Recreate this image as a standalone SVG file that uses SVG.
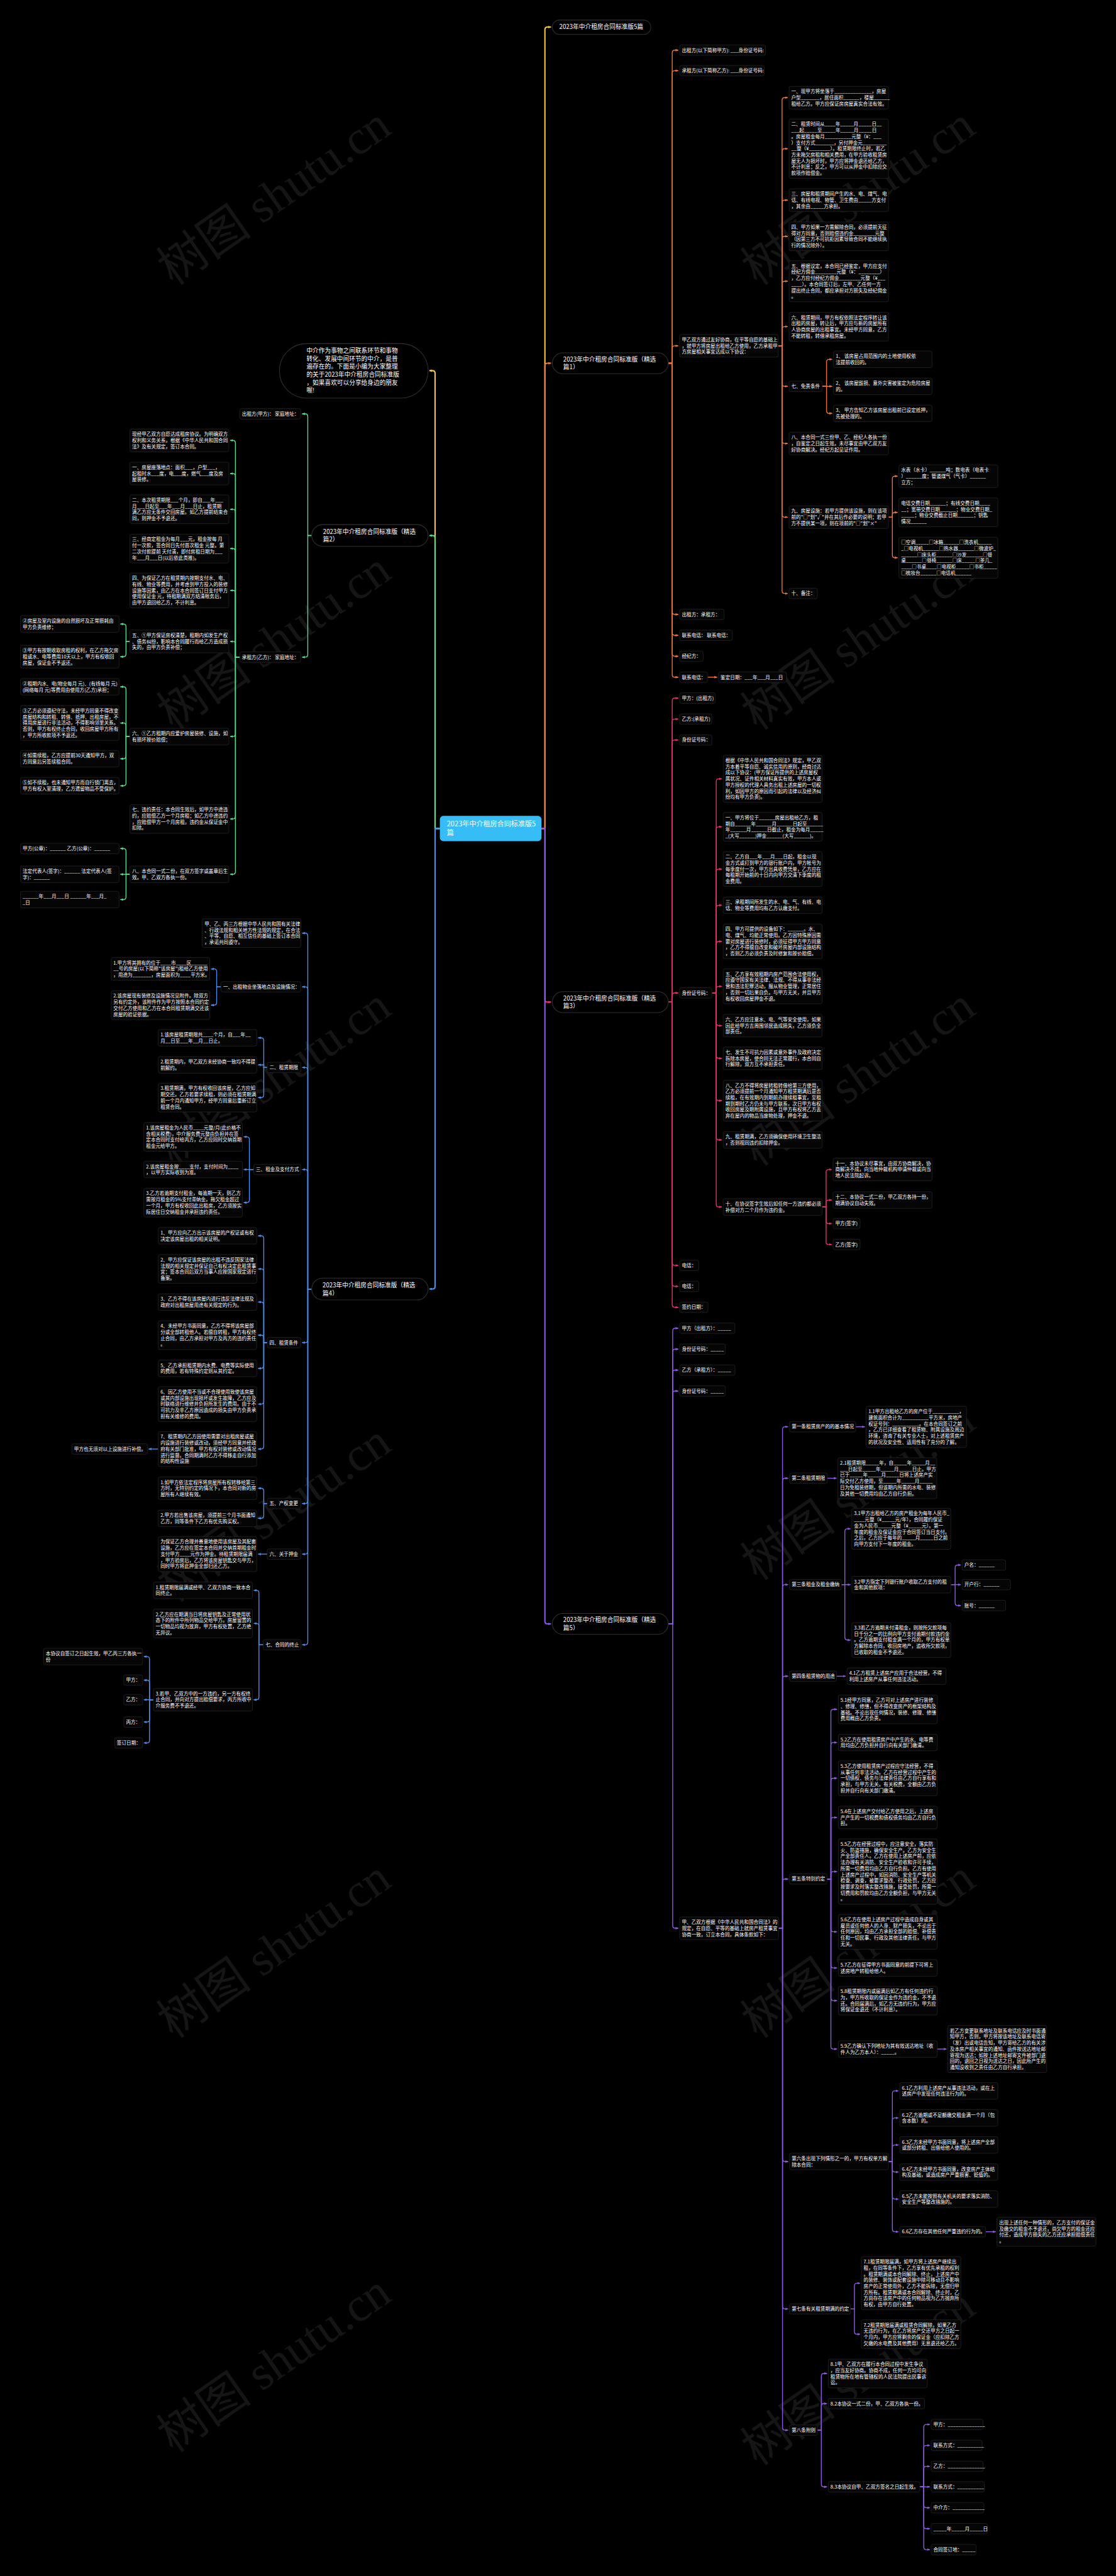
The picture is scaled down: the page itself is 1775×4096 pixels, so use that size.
<svg xmlns="http://www.w3.org/2000/svg" width="1775" height="4096" viewBox="0 0 1775 4096">
<defs>
<style>
.lf{fill:#050505;stroke:#2a2a2a;stroke-width:1}
.pl{fill:#000;stroke:#303030;stroke-width:1.5}
.t{font-family:"Noto Sans CJK SC","Noto Sans",sans-serif;font-size:11px;fill:#fff}
.tb{font-family:"Noto Sans CJK SC","Noto Sans",sans-serif;font-size:14px;fill:#fff}
.wm{font-family:"Liberation Serif","Noto Sans CJK SC",serif;font-size:110px;fill:#151515}
.cn path{fill:none;stroke-width:2}
.mn path{stroke-width:3}
.cy path{stroke:#f5c542}
.co path{stroke:#f0743a}
.cp path{stroke:#e9306b}
.cu path{stroke:#8e5ae8}
.cg path{stroke:#52e08f}
.cb path{stroke:#4a8ff0}
</style>
<marker id="my" viewBox="0 0 10 10" refX="9" refY="5" markerWidth="7" markerHeight="7" markerUnits="userSpaceOnUse" orient="auto"><path d="M0,1L10,5L0,9z" fill="#f5c542"/></marker>
<marker id="mo" viewBox="0 0 10 10" refX="9" refY="5" markerWidth="7" markerHeight="7" markerUnits="userSpaceOnUse" orient="auto"><path d="M0,1L10,5L0,9z" fill="#f0743a"/></marker>
<marker id="mp" viewBox="0 0 10 10" refX="9" refY="5" markerWidth="7" markerHeight="7" markerUnits="userSpaceOnUse" orient="auto"><path d="M0,1L10,5L0,9z" fill="#e9306b"/></marker>
<marker id="mu" viewBox="0 0 10 10" refX="9" refY="5" markerWidth="7" markerHeight="7" markerUnits="userSpaceOnUse" orient="auto"><path d="M0,1L10,5L0,9z" fill="#8e5ae8"/></marker>
<marker id="mg" viewBox="0 0 10 10" refX="9" refY="5" markerWidth="7" markerHeight="7" markerUnits="userSpaceOnUse" orient="auto"><path d="M0,1L10,5L0,9z" fill="#52e08f"/></marker>
<marker id="mb" viewBox="0 0 10 10" refX="9" refY="5" markerWidth="7" markerHeight="7" markerUnits="userSpaceOnUse" orient="auto"><path d="M0,1L10,5L0,9z" fill="#4a8ff0"/></marker>
</defs>
<rect width="1775" height="4096" fill="#000"/>
<g transform="scale(0.693359)">
<g id="watermark">
<text class="wm" text-anchor="middle" transform="translate(650,480) rotate(-35)">树图 shutu.cn</text>
<text class="wm" text-anchor="middle" transform="translate(650,1500) rotate(-35)">树图 shutu.cn</text>
<text class="wm" text-anchor="middle" transform="translate(650,2500) rotate(-35)">树图 shutu.cn</text>
<text class="wm" text-anchor="middle" transform="translate(650,3500) rotate(-35)">树图 shutu.cn</text>
<text class="wm" text-anchor="middle" transform="translate(650,4500) rotate(-35)">树图 shutu.cn</text>
<text class="wm" text-anchor="middle" transform="translate(650,5450) rotate(-35)">树图 shutu.cn</text>
<text class="wm" text-anchor="middle" transform="translate(1990,480) rotate(-35)">树图 shutu.cn</text>
<text class="wm" text-anchor="middle" transform="translate(1990,1500) rotate(-35)">树图 shutu.cn</text>
<text class="wm" text-anchor="middle" transform="translate(1990,2500) rotate(-35)">树图 shutu.cn</text>
<text class="wm" text-anchor="middle" transform="translate(1990,3450) rotate(-35)">树图 shutu.cn</text>
<text class="wm" text-anchor="middle" transform="translate(1990,4500) rotate(-35)">树图 shutu.cn</text>
<text class="wm" text-anchor="middle" transform="translate(1990,5480) rotate(-35)">树图 shutu.cn</text>
</g>

<g id="connectors" class="cn">
<g class="mn cy"><path marker-end="url(#my)" d="M1242,1900H1250V68Q1250,62 1256,62H1264"/><path marker-end="url(#my)" d="M1009,1900H998V856Q998,850 992,850H985"/></g>
<g class="mn co"><path marker-end="url(#mo)" d="M1242,1900H1250V839Q1250,833 1256,833H1264"/></g>
<g class="mn cp"><path marker-end="url(#mp)" d="M1242,1900H1250V2292Q1250,2298 1256,2298H1264"/></g>
<g class="mn cu"><path marker-end="url(#mu)" d="M1242,1900H1250V3718Q1250,3724 1256,3724H1264"/></g>
<g class="mn cg"><path marker-end="url(#mg)" d="M1009,1900H998V1234Q998,1228 992,1228H985"/></g>
<g class="mn cb"><path marker-end="url(#mb)" d="M1009,1900H998V2950Q998,2956 992,2956H985"/></g>

<g class="co">
<path marker-end="url(#mo)" d="M1533,833H1542V121Q1542,115 1548,115H1556"/>
<path marker-end="url(#mo)" d="M1533,833H1542V168Q1542,162 1548,162H1556"/>
<path marker-end="url(#mo)" d="M1533,833H1542V799Q1542,793 1548,793H1556"/>
<path marker-end="url(#mo)" d="M1533,833H1542V1403Q1542,1409 1548,1409H1556"/>
<path marker-end="url(#mo)" d="M1533,833H1542V1451Q1542,1457 1548,1457H1556"/>
<path marker-end="url(#mo)" d="M1533,833H1542V1499Q1542,1505 1548,1505H1556"/>
<path marker-end="url(#mo)" d="M1533,833H1542V1547Q1542,1553 1548,1553H1556"/>
<path marker-end="url(#mo)" d="M1623,1553H1645"/>
<path marker-end="url(#mo)" d="M1785,793H1794V230Q1794,224 1800,224H1807"/>
<path marker-end="url(#mo)" d="M1785,793H1794V347Q1794,341 1800,341H1807"/>
<path marker-end="url(#mo)" d="M1785,793H1794V465Q1794,459 1800,459H1807"/>
<path marker-end="url(#mo)" d="M1785,793H1794V548Q1794,542 1800,542H1807"/>
<path marker-end="url(#mo)" d="M1785,793H1794V651Q1794,645 1800,645H1807"/>
<path marker-end="url(#mo)" d="M1785,793H1794V755Q1794,749 1800,749H1807"/>
<path marker-end="url(#mo)" d="M1785,793H1794V880Q1794,886 1800,886H1807"/>
<path marker-end="url(#mo)" d="M1785,793H1794V1011Q1794,1017 1800,1017H1807"/>
<path marker-end="url(#mo)" d="M1785,793H1794V1180Q1794,1186 1800,1186H1807"/>
<path marker-end="url(#mo)" d="M1785,793H1794V1355Q1794,1361 1800,1361H1807"/>
<path marker-end="url(#mo)" d="M1886,886H1896V830Q1896,824 1902,824H1909"/>
<path marker-end="url(#mo)" d="M1886,886H1909"/>
<path marker-end="url(#mo)" d="M1886,886H1896V942Q1896,948 1902,948H1909"/>
<path marker-end="url(#mo)" d="M2038,1186H2047V1098Q2047,1092 2053,1092H2059"/>
<path marker-end="url(#mo)" d="M2038,1186H2047V1181Q2047,1175 2053,1175H2059"/>
<path marker-end="url(#mo)" d="M2038,1186H2047V1273Q2047,1279 2053,1279H2059"/>
</g>

<g class="cp">
<path marker-end="url(#mp)" d="M1533,2298H1542V1607Q1542,1601 1548,1601H1556"/>
<path marker-end="url(#mp)" d="M1533,2298H1542V1655Q1542,1649 1548,1649H1556"/>
<path marker-end="url(#mp)" d="M1533,2298H1542V1703Q1542,1697 1548,1697H1556"/>
<path marker-end="url(#mp)" d="M1533,2298H1542V2283Q1542,2277 1548,2277H1556"/>
<path marker-end="url(#mp)" d="M1533,2298H1542V2896Q1542,2902 1548,2902H1556"/>
<path marker-end="url(#mp)" d="M1533,2298H1542V2944Q1542,2950 1548,2950H1556"/>
<path marker-end="url(#mp)" d="M1533,2298H1542V2992Q1542,2998 1548,2998H1556"/>
<path marker-end="url(#mp)" d="M1633,2277H1643V1792Q1643,1786 1649,1786H1656"/>
<path marker-end="url(#mp)" d="M1633,2277H1643V1902Q1643,1896 1649,1896H1656"/>
<path marker-end="url(#mp)" d="M1633,2277H1643V1999Q1643,1993 1649,1993H1656"/>
<path marker-end="url(#mp)" d="M1633,2277H1643V2082Q1643,2076 1649,2076H1656"/>
<path marker-end="url(#mp)" d="M1633,2277H1643V2165Q1643,2159 1649,2159H1656"/>
<path marker-end="url(#mp)" d="M1633,2277H1643V2268Q1643,2262 1649,2262H1656"/>
<path marker-end="url(#mp)" d="M1633,2277H1643V2346Q1643,2352 1649,2352H1656"/>
<path marker-end="url(#mp)" d="M1633,2277H1643V2421Q1643,2427 1649,2427H1656"/>
<path marker-end="url(#mp)" d="M1633,2277H1643V2518Q1643,2524 1649,2524H1656"/>
<path marker-end="url(#mp)" d="M1633,2277H1643V2608Q1643,2614 1649,2614H1656"/>
<path marker-end="url(#mp)" d="M1633,2277H1643V2762Q1643,2768 1649,2768H1656"/>
<path marker-end="url(#mp)" d="M1886,2768H1895V2688Q1895,2682 1901,2682H1908"/>
<path marker-end="url(#mp)" d="M1886,2768H1895V2758Q1895,2752 1901,2752H1908"/>
<path marker-end="url(#mp)" d="M1886,2768H1895V2800Q1895,2806 1901,2806H1908"/>
<path marker-end="url(#mp)" d="M1886,2768H1895V2848Q1895,2854 1901,2854H1908"/>
</g>

<g class="cu">
<path marker-end="url(#mu)" d="M1533,3724H1543V3052Q1543,3046 1549,3046H1556"/>
<path marker-end="url(#mu)" d="M1533,3724H1543V3100Q1543,3094 1549,3094H1556"/>
<path marker-end="url(#mu)" d="M1533,3724H1543V3148Q1543,3142 1549,3142H1556"/>
<path marker-end="url(#mu)" d="M1533,3724H1543V3196Q1543,3190 1549,3190H1556"/>
<path marker-end="url(#mu)" d="M1533,3724H1543V4416Q1543,4422 1549,4422H1556"/>
<path marker-end="url(#mu)" d="M1785,4422H1795V3278Q1795,3272 1801,3272H1808"/>
<path marker-end="url(#mu)" d="M1785,4422H1795V3396Q1795,3390 1801,3390H1808"/>
<path marker-end="url(#mu)" d="M1785,4422H1795V3640Q1795,3634 1801,3634H1808"/>
<path marker-end="url(#mu)" d="M1785,4422H1795V3850Q1795,3844 1801,3844H1808"/>
<path marker-end="url(#mu)" d="M1785,4422H1795V4315Q1795,4309 1801,4309H1808"/>
<path marker-end="url(#mu)" d="M1785,4422H1795V4951Q1795,4957 1801,4957H1808"/>
<path marker-end="url(#mu)" d="M1785,4422H1795V5289Q1795,5295 1801,5295H1808"/>
<path marker-end="url(#mu)" d="M1785,4422H1795V5567Q1795,5573 1801,5573H1808"/>
<path marker-end="url(#mu)" d="M1963,3272H1984"/>
<path marker-end="url(#mu)" d="M1898,3390H1919"/>
<path marker-end="url(#mu)" d="M1930,3634H1938V3512Q1938,3506 1944,3506H1951"/>
<path marker-end="url(#mu)" d="M1930,3634H1951"/>
<path marker-end="url(#mu)" d="M1930,3634H1938V3755Q1938,3761 1944,3761H1951"/>
<path marker-end="url(#mu)" d="M2181,3634H2191V3595Q2191,3589 2197,3589H2204"/>
<path marker-end="url(#mu)" d="M2181,3634H2204"/>
<path marker-end="url(#mu)" d="M2181,3634H2191V3676Q2191,3682 2197,3682H2204"/>
<path marker-end="url(#mu)" d="M1919,3844H1940"/>
<path marker-end="url(#mu)" d="M1897,4309H1906V3926Q1906,3920 1912,3920H1920"/>
<path marker-end="url(#mu)" d="M1897,4309H1906V4002Q1906,3996 1912,3996H1920"/>
<path marker-end="url(#mu)" d="M1897,4309H1906V4084Q1906,4078 1912,4078H1920"/>
<path marker-end="url(#mu)" d="M1897,4309H1906V4174Q1906,4168 1912,4168H1920"/>
<path marker-end="url(#mu)" d="M1897,4309H1906V4298Q1906,4292 1912,4292H1920"/>
<path marker-end="url(#mu)" d="M1897,4309H1906V4424Q1906,4430 1912,4430H1920"/>
<path marker-end="url(#mu)" d="M1897,4309H1906V4507Q1906,4513 1912,4513H1920"/>
<path marker-end="url(#mu)" d="M1897,4309H1906V4582Q1906,4588 1912,4588H1920"/>
<path marker-end="url(#mu)" d="M1897,4309H1906V4693Q1906,4699 1912,4699H1920"/>
<path marker-end="url(#mu)" d="M2150,4699H2171"/>
<path marker-end="url(#mu)" d="M2038,4957H2047V4801Q2047,4795 2053,4795H2061"/>
<path marker-end="url(#mu)" d="M2038,4957H2047V4863Q2047,4857 2053,4857H2061"/>
<path marker-end="url(#mu)" d="M2038,4957H2047V4925Q2047,4919 2053,4919H2061"/>
<path marker-end="url(#mu)" d="M2038,4957H2047V4975Q2047,4981 2053,4981H2061"/>
<path marker-end="url(#mu)" d="M2038,4957H2047V5037Q2047,5043 2053,5043H2061"/>
<path marker-end="url(#mu)" d="M2038,4957H2047V5112Q2047,5118 2053,5118H2061"/>
<path marker-end="url(#mu)" d="M2261,5118H2284"/>
<path marker-end="url(#mu)" d="M1951,5295H1960V5242Q1960,5236 1966,5236H1973"/>
<path marker-end="url(#mu)" d="M1951,5295H1960V5347Q1960,5353 1966,5353H1973"/>
<path marker-end="url(#mu)" d="M1875,5573H1884V5449Q1884,5443 1890,5443H1897"/>
<path marker-end="url(#mu)" d="M1875,5573H1884V5518Q1884,5512 1890,5512H1897"/>
<path marker-end="url(#mu)" d="M1875,5573H1884V5697Q1884,5703 1890,5703H1897"/>
<path marker-end="url(#mu)" d="M2110,5703H2119V5566Q2119,5560 2125,5560H2133"/>
<path marker-end="url(#mu)" d="M2110,5703H2119V5614Q2119,5608 2125,5608H2133"/>
<path marker-end="url(#mu)" d="M2110,5703H2119V5662Q2119,5656 2125,5656H2133"/>
<path marker-end="url(#mu)" d="M2110,5703H2133"/>
<path marker-end="url(#mu)" d="M2110,5703H2119V5745Q2119,5751 2125,5751H2133"/>
<path marker-end="url(#mu)" d="M2110,5703H2119V5793Q2119,5799 2125,5799H2133"/>
<path marker-end="url(#mu)" d="M2110,5703H2119V5841Q2119,5847 2125,5847H2133"/>
</g>

<g class="cg">
<path marker-end="url(#mg)" d="M715,1228H706V955Q706,949 700,949H693"/>
<path marker-end="url(#mg)" d="M715,1228H706V1501Q706,1507 700,1507H693"/>
<path marker-end="url(#mg)" d="M550,1507H540V1016Q540,1010 534,1010H528"/>
<path marker-end="url(#mg)" d="M550,1507H540V1092Q540,1086 534,1086H528"/>
<path marker-end="url(#mg)" d="M550,1507H540V1174Q540,1168 534,1168H528"/>
<path marker-end="url(#mg)" d="M550,1507H540V1264Q540,1258 534,1258H528"/>
<path marker-end="url(#mg)" d="M550,1507H540V1360Q540,1354 534,1354H528"/>
<path marker-end="url(#mg)" d="M550,1507H540V1477Q540,1471 534,1471H528"/>
<path marker-end="url(#mg)" d="M550,1507H540V1683Q540,1689 534,1689H528"/>
<path marker-end="url(#mg)" d="M550,1507H540V1872Q540,1878 534,1878H528"/>
<path marker-end="url(#mg)" d="M550,1507H540V1999Q540,2005 534,2005H528"/>
<path marker-end="url(#mg)" d="M298,1471H289V1437Q289,1431 283,1431H276"/>
<path marker-end="url(#mg)" d="M298,1471H289V1500Q289,1506 283,1506H276"/>
<path marker-end="url(#mg)" d="M298,1689H289V1581Q289,1575 283,1575H276"/>
<path marker-end="url(#mg)" d="M298,1689H289V1664Q289,1658 283,1658H276"/>
<path marker-end="url(#mg)" d="M298,1689H289V1734Q289,1740 283,1740H276"/>
<path marker-end="url(#mg)" d="M298,1689H289V1796Q289,1802 283,1802H276"/>
<path marker-end="url(#mg)" d="M298,2005H289V1952Q289,1946 283,1946H276"/>
<path marker-end="url(#mg)" d="M298,2005H276"/>
<path marker-end="url(#mg)" d="M298,2005H289V2057Q289,2063 283,2063H276"/>
</g>

<g class="cb">
<path marker-end="url(#mb)" d="M715,2956H706V2146Q706,2140 700,2140H693"/>
<path marker-end="url(#mb)" d="M715,2956H706V2269Q706,2263 700,2263H693"/>
<path marker-end="url(#mb)" d="M715,2956H706V2454Q706,2448 700,2448H693"/>
<path marker-end="url(#mb)" d="M715,2956H706V2688Q706,2682 700,2682H693"/>
<path marker-end="url(#mb)" d="M715,2956H706V3073Q706,3079 700,3079H693"/>
<path marker-end="url(#mb)" d="M715,2956H706V3442Q706,3448 700,3448H693"/>
<path marker-end="url(#mb)" d="M715,2956H706V3558Q706,3564 700,3564H693"/>
<path marker-end="url(#mb)" d="M715,2956H706V3766Q706,3772 700,3772H693"/>
<path marker-end="url(#mb)" d="M507,2263H497V2228Q497,2222 491,2222H484"/>
<path marker-end="url(#mb)" d="M507,2263H497V2299Q497,2305 491,2305H484"/>
<path marker-end="url(#mb)" d="M613,2448H605V2386Q605,2380 599,2380H592"/>
<path marker-end="url(#mb)" d="M613,2448H605V2442H592"/>
<path marker-end="url(#mb)" d="M613,2448H605V2511Q605,2517 599,2517H592"/>
<path marker-end="url(#mb)" d="M582,2682H572V2613Q572,2607 566,2607H559"/>
<path marker-end="url(#mb)" d="M582,2682H559"/>
<path marker-end="url(#mb)" d="M582,2682H572V2752Q572,2758 566,2758H559"/>
<path marker-end="url(#mb)" d="M613,3079H605V2840Q605,2834 599,2834H592"/>
<path marker-end="url(#mb)" d="M613,3079H605V2916Q605,2910 599,2910H592"/>
<path marker-end="url(#mb)" d="M613,3079H605V2992Q605,2986 599,2986H592"/>
<path marker-end="url(#mb)" d="M613,3079H605V3068Q605,3062 599,3062H592"/>
<path marker-end="url(#mb)" d="M613,3079H605V3132Q605,3138 599,3138H592"/>
<path marker-end="url(#mb)" d="M613,3079H605V3214Q605,3220 599,3220H592"/>
<path marker-end="url(#mb)" d="M613,3079H605V3317Q605,3323 599,3323H592"/>
<path marker-end="url(#mb)" d="M363,3323H341"/>
<path marker-end="url(#mb)" d="M613,3448H605V3419Q605,3413 599,3413H592"/>
<path marker-end="url(#mb)" d="M613,3448H605V3476Q605,3482 599,3482H592"/>
<path marker-end="url(#mb)" d="M613,3564H592"/>
<path marker-end="url(#mb)" d="M604,3772H594V3653Q594,3647 588,3647H582"/>
<path marker-end="url(#mb)" d="M604,3772H594V3729Q594,3723 588,3723H582"/>
<path marker-end="url(#mb)" d="M604,3772H594V3892Q594,3898 588,3898H582"/>
<path marker-end="url(#mb)" d="M352,3898H343V3805Q343,3799 337,3799H330"/>
<path marker-end="url(#mb)" d="M352,3898H343V3859Q343,3853 337,3853H330"/>
<path marker-end="url(#mb)" d="M352,3898H330"/>
<path marker-end="url(#mb)" d="M352,3898H343V3943Q343,3949 337,3949H330"/>
<path marker-end="url(#mb)" d="M352,3898H343V3991Q343,3997 337,3997H330"/>
</g>
</g>

<g id="center"><rect x="1009" y="1871" width="233" height="58" rx="8" fill="#36bdf5"/><text class="tb" x="1025" y="1895" style="font-size:16px">2023年中介租房合同标准版5<tspan x="1025" dy="21">篇</tspan></text></g>

<g id="b5p"><rect class="pl" x="1267" y="46" width="226" height="33" rx="16.5"/><text class="tb" x="1283" y="67">2023年中介租房合同标准版5篇</text></g>
<g id="b1"><rect class="pl" x="1267" y="809" width="266" height="48" rx="24"/><text class="tb" x="1292" y="829">2023年中介租房合同标准版（精选<tspan x="1292" dy="18">篇1）</tspan></text></g>
<g id="b3"><rect class="pl" x="1267" y="2274" width="266" height="48" rx="24"/><text class="tb" x="1292" y="2294">2023年中介租房合同标准版（精选<tspan x="1292" dy="18">篇3）</tspan></text></g>
<g id="b5"><rect class="pl" x="1267" y="3700" width="266" height="48" rx="24"/><text class="tb" x="1292" y="3720">2023年中介租房合同标准版（精选<tspan x="1292" dy="18">篇5）</tspan></text></g>
<g id="intro"><rect class="pl" x="641" y="788" width="341" height="125" rx="62"/><text class="tb" x="703" y="809">中介作为事物之间联系环节和事物<tspan x="703" dy="18.3">转化、发展中间环节的中介，是普</tspan><tspan x="703" dy="18.3">遍存在的。下面是小编为大家整理</tspan><tspan x="703" dy="18.3">的关于2023年中介租房合同标准版</tspan><tspan x="703" dy="18.3">，如果喜欢可以分享给身边的朋友</tspan><tspan x="703" dy="18.3">喔!</tspan></text></g>
<g id="b2"><rect class="pl" x="715" y="1203" width="267" height="50" rx="25"/><text class="tb" x="741" y="1224">2023年中介租房合同标准版（精选<tspan x="741" dy="18">篇2）</tspan></text></g>
<g id="b4"><rect class="pl" x="715" y="2931" width="267" height="50" rx="25"/><text class="tb" x="740" y="2952">2023年中介租房合同标准版（精选<tspan x="740" dy="19">篇4）</tspan></text></g>

<!-- 精选篇1 -->
<g id="a1"><rect class="lf" x="1559" y="103" width="197" height="24" rx="4"/><text class="t" x="1564" y="119">出租方(以下简称甲方): ___身份证号码:</text></g>
<g id="a2"><rect class="lf" x="1559" y="150" width="194" height="24" rx="4"/><text class="t" x="1564" y="166">承租方(以下简称乙方): ___身份证号码:</text></g>
<g id="a3"><rect class="lf" x="1559" y="767" width="226" height="52" rx="4"/><text class="t" x="1564" y="783">甲乙双方通过友好协商，在平等自愿的基础上<tspan x="1564" dy="14">，就甲方将房屋出租给乙方使用，乙方承租甲</tspan><tspan x="1564" dy="14">方房屋相关事宜达成以下协议：</tspan></text></g>
<g id="a4"><rect class="lf" x="1559" y="1397" width="102" height="24" rx="4"/><text class="t" x="1564" y="1413">出租方：承租方：</text></g>
<g id="a5"><rect class="lf" x="1559" y="1445" width="121" height="24" rx="4"/><text class="t" x="1564" y="1461">联系电话： 联系电话：</text></g>
<g id="a6"><rect class="lf" x="1559" y="1493" width="54" height="24" rx="4"/><text class="t" x="1564" y="1509">经纪方：</text></g>
<g id="a7"><rect class="lf" x="1559" y="1541" width="64" height="24" rx="4"/><text class="t" x="1564" y="1557">联系电话：</text></g>
<g id="a7c"><rect class="lf" x="1648" y="1541" width="156" height="24" rx="4"/><text class="t" x="1653" y="1557">鉴定日期：___年___月___日</text></g>
<g id="b1i1"><rect class="lf" x="1810" y="198" width="228" height="52" rx="4"/><text class="t" x="1815" y="214">一、现甲方将坐落于______________，房屋<tspan x="1815" dy="14">户型_______，居住面积______，楼屋______</tspan><tspan x="1815" dy="14">租给乙方。甲方应保证房房屋真实合法有效。</tspan></text></g>
<g id="b1i2"><rect class="lf" x="1810" y="273" width="228" height="136" rx="4"/><text class="t" x="1815" y="289">二、租赁时间从____年_____月_____日__<tspan x="1815" dy="14">___起_____至_____年_____月_____日</tspan><tspan x="1815" dy="14">。房屋租金每月__________元整（¥：___</tspan><tspan x="1815" dy="14">）支付方式_______，另付押金元_________</tspan><tspan x="1815" dy="14">__整（¥________）。租赁期限终止时，若乙</tspan><tspan x="1815" dy="14">方未拖欠房租和相关费用，在甲方验收租赁房</tspan><tspan x="1815" dy="14">屋无人为损坏时，甲方应将押金退还给乙方，</tspan><tspan x="1815" dy="14">不计利息；反之，甲方可以从押金中扣除应交</tspan><tspan x="1815" dy="14">款项作赔偿金。</tspan></text></g>
<g id="b1i3"><rect class="lf" x="1810" y="433" width="228" height="52" rx="4"/><text class="t" x="1815" y="449">三、房屋和租赁期间产生的水、电、煤气、电<tspan x="1815" dy="14">话、有线电视、物管、卫生费由_____方支付</tspan><tspan x="1815" dy="14">，其余由_____方承担。</tspan></text></g>
<g id="b1i4"><rect class="lf" x="1810" y="509" width="228" height="66" rx="4"/><text class="t" x="1815" y="525">四、甲方如果一方需解除合同，必须提前天征<tspan x="1815" dy="14">得对方同意，否则赔偿违约金________元整</tspan><tspan x="1815" dy="14">（因第三方不可抗拒因素导致合同不能继续执</tspan><tspan x="1815" dy="14">行的情况除外）。</tspan></text></g>
<g id="b1i5"><rect class="lf" x="1810" y="598" width="228" height="94" rx="4"/><text class="t" x="1815" y="614">五、根据议定，本合同已经鉴定，甲方应支付<tspan x="1815" dy="14">经纪方佣金________元整（¥：________）</tspan><tspan x="1815" dy="14">，乙方应付经纪方佣金________元整（¥___</tspan><tspan x="1815" dy="14">____）。本合同签订后，左甲、乙任何一方</tspan><tspan x="1815" dy="14">提出终止合同，都应承担对方损失及经纪佣金</tspan><tspan x="1815" dy="14">。</tspan></text></g>
<g id="b1i6"><rect class="lf" x="1810" y="716" width="228" height="66" rx="4"/><text class="t" x="1815" y="732">六、租赁期间，甲方有权依照法定程序转让该<tspan x="1815" dy="14">出租的房屋，转让后，甲方应与新的房屋所有</tspan><tspan x="1815" dy="14">人协商房屋的出租事宜。未经甲方同意，乙方</tspan><tspan x="1815" dy="14">不能转租，转借承租房屋。</tspan></text></g>
<g id="b1i7"><rect class="lf" x="1810" y="874" width="76" height="24" rx="4"/><text class="t" x="1815" y="890">七、免责条件</text></g>
<g id="b1i7a"><rect class="lf" x="1912" y="805" width="226" height="38" rx="4"/><text class="t" x="1917" y="821">1、 该房屋占用范围内的土地使用权依<tspan x="1917" dy="14">法提前收回的。</tspan></text></g>
<g id="b1i7b"><rect class="lf" x="1912" y="867" width="226" height="38" rx="4"/><text class="t" x="1917" y="883">2、 该房屋毁损、意外灾害被鉴定为危险房屋<tspan x="1917" dy="14">的。</tspan></text></g>
<g id="b1i7c"><rect class="lf" x="1912" y="929" width="226" height="38" rx="4"/><text class="t" x="1917" y="945">3、 甲方告知乙方该房屋出租前已设定抵押，<tspan x="1917" dy="14">先被处理的。</tspan></text></g>
<g id="b1i8"><rect class="lf" x="1810" y="991" width="228" height="52" rx="4"/><text class="t" x="1815" y="1007">八、本合同一式三份甲、乙、经纪人各执一份<tspan x="1815" dy="14">，自鉴定之日起生效。未尽事宜由甲乙双方友</tspan><tspan x="1815" dy="14">好协商解决。经纪方起见证作用。</tspan></text></g>
<g id="b1i9"><rect class="lf" x="1810" y="1160" width="228" height="52" rx="4"/><text class="t" x="1815" y="1176">九、房屋设施：若甲方提供该设施，则在该项<tspan x="1815" dy="14">前的"□"划"√"并在其后作必要的说明；若甲</tspan><tspan x="1815" dy="14">方不提供某一项，则在项前的"□"划"×"</tspan></text></g>
<g id="b1i9a"><rect class="lf" x="2062" y="1066" width="227" height="52" rx="4"/><text class="t" x="2067" y="1082">水表（水卡）______吨；数电表（电表卡<tspan x="2067" dy="14">）______度；管道煤气（气卡）______</tspan><tspan x="2067" dy="14">立方；</tspan></text></g>
<g id="b1i9b"><rect class="lf" x="2062" y="1142" width="227" height="66" rx="4"/><text class="t" x="2067" y="1158">电话交费日期______；有线交费日期____<tspan x="2067" dy="14">__；宽带交费日期______；物业交费日期_</tspan><tspan x="2067" dy="14">_____；物业交费截止日期______；钥匙</tspan><tspan x="2067" dy="14">情况______</tspan></text></g>
<g id="b1i9c"><rect class="lf" x="2062" y="1232" width="227" height="94" rx="4"/><text class="t" x="2067" y="1248">□空调_____□冰箱______□洗衣机_____<tspan x="2067" dy="14">_□电视机______□热水器______□微波炉_</tspan><tspan x="2067" dy="14">______□床头柜______□沙发______□餐</tspan><tspan x="2067" dy="14">桌______□餐椅______□床_____□茶几_</tspan><tspan x="2067" dy="14">____□书桌____□电视柜_____□书柜_____</tspan><tspan x="2067" dy="14">□梳妆台______□电话机______</tspan></text></g>
<g id="b1i10"><rect class="lf" x="1810" y="1349" width="65" height="24" rx="4"/><text class="t" x="1815" y="1365">十、备注：</text></g>

<!-- 精选篇3 -->
<g id="e1"><rect class="lf" x="1559" y="1589" width="82" height="24" rx="4"/><text class="t" x="1564" y="1605">甲方：(出租方)</text></g>
<g id="e2"><rect class="lf" x="1559" y="1637" width="74" height="24" rx="4"/><text class="t" x="1564" y="1653">乙方:(承租方)</text></g>
<g id="e3"><rect class="lf" x="1559" y="1685" width="74" height="24" rx="4"/><text class="t" x="1564" y="1701">身份证号码：</text></g>
<g id="e4"><rect class="lf" x="1559" y="2265" width="74" height="24" rx="4"/><text class="t" x="1564" y="2281">身份证号码：</text></g>
<g id="e5"><rect class="lf" x="1559" y="2890" width="44" height="24" rx="4"/><text class="t" x="1564" y="2906">电话：</text></g>
<g id="e6"><rect class="lf" x="1559" y="2938" width="44" height="24" rx="4"/><text class="t" x="1564" y="2954">电话：</text></g>
<g id="e7"><rect class="lf" x="1559" y="2986" width="65" height="24" rx="4"/><text class="t" x="1564" y="3002">签约日期：</text></g>
<g id="f0"><rect class="lf" x="1659" y="1732" width="227" height="108" rx="4"/><text class="t" x="1664" y="1748">根据《中华人民共和国合同法》规定，甲乙双<tspan x="1664" dy="14">方本着平等自愿、诚实信用的原则，经商讨达</tspan><tspan x="1664" dy="14">成以下协议：(甲方保证所提供的上述房屋权</tspan><tspan x="1664" dy="14">属状况、证件相关材料真实有效，甲方本人或</tspan><tspan x="1664" dy="14">甲方授权的代理人具务出租上述房屋的一切权</tspan><tspan x="1664" dy="14">利，如因甲方的原因而引起的法律以及经济纠</tspan><tspan x="1664" dy="14">纷均有甲方负责)。</tspan></text></g>
<g id="f1"><rect class="lf" x="1659" y="1863" width="227" height="66" rx="4"/><text class="t" x="1664" y="1879">一、甲方将位于______房屋出租给乙方，租<tspan x="1664" dy="14">期自______年______月______日起至______</tspan><tspan x="1664" dy="14">年______月______日截止，租金为每月_____</tspan><tspan x="1664" dy="14">_(大写______)押金______(大写______)。</tspan></text></g>
<g id="f2"><rect class="lf" x="1659" y="1953" width="227" height="80" rx="4"/><text class="t" x="1664" y="1969">二、乙方自___年___月___日起，租金以现<tspan x="1664" dy="14">金方式或打到甲方的银行账户内，甲方帐号为</tspan><tspan x="1664" dy="14">每季度付一次，甲方出具收费凭单，乙方应在</tspan><tspan x="1664" dy="14">每租期开始前的十日内向甲方交清下季度的租</tspan><tspan x="1664" dy="14">金费用。</tspan></text></g>
<g id="f3"><rect class="lf" x="1659" y="2057" width="227" height="38" rx="4"/><text class="t" x="1664" y="2073">三、承租期间所发生的水、电、气、有线、电<tspan x="1664" dy="14">话、物业等费用均有乙方认缴支付。</tspan></text></g>
<g id="f4"><rect class="lf" x="1659" y="2119" width="227" height="80" rx="4"/><text class="t" x="1664" y="2135">四、甲方可提供的设备如下：______。水、<tspan x="1664" dy="14">电、煤气、均能正常使用。乙方因特殊原因需</tspan><tspan x="1664" dy="14">要对房屋进行装修时，必须征得甲方甲方同意</tspan><tspan x="1664" dy="14">，乙方不得擅自改变和破坏房屋内部设施结构</tspan><tspan x="1664" dy="14">，否则乙方必须负责及时修复和按价赔偿。</tspan></text></g>
<g id="f5"><rect class="lf" x="1659" y="2222" width="227" height="80" rx="4"/><text class="t" x="1664" y="2238">五、乙方享有效租期内房产范围合法使用权，<tspan x="1664" dy="14">应遵守国家有关法律、法规、不得从事非法经</tspan><tspan x="1664" dy="14">营和违法犯罪活动，服从物业管理，正常居住</tspan><tspan x="1664" dy="14">，否则一切后果自负。与甲方无关，并且甲方</tspan><tspan x="1664" dy="14">有权收回房屋押金不退。</tspan></text></g>
<g id="f6"><rect class="lf" x="1659" y="2326" width="227" height="52" rx="4"/><text class="t" x="1664" y="2342">六、乙方应注意水、电、气等安全使用，如果<tspan x="1664" dy="14">因此给甲方吉周围邻居造成损失，乙方须负全</tspan><tspan x="1664" dy="14">部责任。</tspan></text></g>
<g id="f7"><rect class="lf" x="1659" y="2401" width="227" height="52" rx="4"/><text class="t" x="1664" y="2417">七、发生不可抗力因素或意外事件及政府决定<tspan x="1664" dy="14">拆除本房屋，使合同无法正常履行，本合同自</tspan><tspan x="1664" dy="14">行解除，双方互不承担责任。</tspan></text></g>
<g id="f8"><rect class="lf" x="1659" y="2477" width="227" height="94" rx="4"/><text class="t" x="1664" y="2493">八、乙方不得将房屋转租转借给第三方使用，<tspan x="1664" dy="14">乙方必须提前一个月通知甲方租赁期满后是否</tspan><tspan x="1664" dy="14">续租，在有效期内到期前办理续租事宜，至租</tspan><tspan x="1664" dy="14">期到期时乙方仍未与甲方联系，次日甲方有权</tspan><tspan x="1664" dy="14">收回房屋及期附属设施，且甲方有权将乙方丢</tspan><tspan x="1664" dy="14">弃在屋内的物品当废物处理，押金不退。</tspan></text></g>
<g id="f9"><rect class="lf" x="1659" y="2595" width="227" height="38" rx="4"/><text class="t" x="1664" y="2611">九、租赁期满，乙方须确保使用环境卫生整洁<tspan x="1664" dy="14">，否则视同违约扣除押金。</tspan></text></g>
<g id="f10"><rect class="lf" x="1659" y="2749" width="227" height="38" rx="4"/><text class="t" x="1664" y="2765">十、在协议签字生效后如任何一方违约都必须<tspan x="1664" dy="14">补偿对方二个月作为违约金。</tspan></text></g>
<g id="g1"><rect class="lf" x="1911" y="2656" width="227" height="52" rx="4"/><text class="t" x="1916" y="2672">十一、本协议未尽事宜，由双方协商解决，协<tspan x="1916" dy="14">商解决不成，向当地仲裁机构申请仲裁或向当</tspan><tspan x="1916" dy="14">地人民法院起诉。</tspan></text></g>
<g id="g2"><rect class="lf" x="1911" y="2733" width="227" height="38" rx="4"/><text class="t" x="1916" y="2749">十二、本协议一式二份，甲乙双方各持一份，<tspan x="1916" dy="14">期满协议自动失效。</tspan></text></g>
<g id="g3"><rect class="lf" x="1911" y="2794" width="62" height="24" rx="4"/><text class="t" x="1916" y="2810">甲方(签字)</text></g>
<g id="g4"><rect class="lf" x="1911" y="2842" width="62" height="24" rx="4"/><text class="t" x="1916" y="2858">乙方(签字)</text></g>

<!-- 精选篇5 -->
<g id="h1"><rect class="lf" x="1559" y="3034" width="127" height="24" rx="4"/><text class="t" x="1564" y="3050">甲方（出租方）：_____</text></g>
<g id="h2"><rect class="lf" x="1559" y="3082" width="105" height="24" rx="4"/><text class="t" x="1564" y="3098">身份证号码：_____</text></g>
<g id="h3"><rect class="lf" x="1559" y="3130" width="127" height="24" rx="4"/><text class="t" x="1564" y="3146">乙方（承租方）：_____</text></g>
<g id="h4"><rect class="lf" x="1559" y="3178" width="105" height="24" rx="4"/><text class="t" x="1564" y="3194">身份证号码：_____</text></g>
<g id="h5"><rect class="lf" x="1559" y="4396" width="227" height="52" rx="4"/><text class="t" x="1564" y="4412">甲、乙双方根据《中华人民共和国合同法》的<tspan x="1564" dy="14">规定，在自愿、平等的基础上就房产租赁事宜</tspan><tspan x="1564" dy="14">协商一致，订立本合同，具体条款如下：</tspan></text></g>
<g id="i1"><rect class="lf" x="1811" y="3260" width="152" height="24" rx="4"/><text class="t" x="1816" y="3276">第一条租赁房产的的基本情况</text></g>
<g id="i1c"><rect class="lf" x="1987" y="3225" width="230" height="94" rx="4"/><text class="t" x="1992" y="3241">1.1甲方出租给乙方的房产位于__________，<tspan x="1992" dy="14">建筑面积合计为__________平方米，房地产</tspan><tspan x="1992" dy="14">权证号列：__________。在本合同签订之前</tspan><tspan x="1992" dy="14">，乙方已详细查看了租赁物、附属设施及周边</tspan><tspan x="1992" dy="14">环境，咨询了有关专业人士，对上述租赁房产</tspan><tspan x="1992" dy="14">的状况及安全性、适用性有了充分的了解。</tspan></text></g>
<g id="i2"><rect class="lf" x="1811" y="3378" width="87" height="24" rx="4"/><text class="t" x="1816" y="3394">第二条租赁期限</text></g>
<g id="i2c"><rect class="lf" x="1922" y="3343" width="227" height="94" rx="4"/><text class="t" x="1927" y="3359">2.1租赁期限_____年，自_____年_____月__<tspan x="1927" dy="14">___日起至_____年_____月_____日止。甲方</tspan><tspan x="1927" dy="14">已于_____年_____月_____日将上述房产实</tspan><tspan x="1927" dy="14">际交付乙方使用，至_____年_____月_____</tspan><tspan x="1927" dy="14">日为免租装修期，但该期内所需的水电、装修</tspan><tspan x="1927" dy="14">及其他一切费用均由乙方自行负担。</tspan></text></g>
<g id="i3"><rect class="lf" x="1811" y="3622" width="119" height="24" rx="4"/><text class="t" x="1816" y="3638">第三条租金及租金缴纳</text></g>
<g id="j1"><rect class="lf" x="1954" y="3459" width="227" height="94" rx="4"/><text class="t" x="1959" y="3475">3.1甲方出租给乙方的房产租金为每年人民币_<tspan x="1959" dy="14">____元整（¥_____元/年），合同履约保证</tspan><tspan x="1959" dy="14">金为人民币_____元整（¥_____元）。第一</tspan><tspan x="1959" dy="14">年度的租金及保证金应于合同签订当日支付。</tspan><tspan x="1959" dy="14">之后，乙方应于每年的_____月_____日之前</tspan><tspan x="1959" dy="14">向甲方支付下一年度的租金。</tspan></text></g>
<g id="j2"><rect class="lf" x="1954" y="3615" width="227" height="38" rx="4"/><text class="t" x="1959" y="3631">3.2甲方指定下列银行账户收取乙方支付的租<tspan x="1959" dy="14">金和其他款项：</tspan></text></g>
<g id="j2a"><rect class="lf" x="2207" y="3577" width="100" height="24" rx="4"/><text class="t" x="2212" y="3593">户名：______</text></g>
<g id="j2b"><rect class="lf" x="2207" y="3622" width="111" height="24" rx="4"/><text class="t" x="2212" y="3638">开户行：______</text></g>
<g id="j2c"><rect class="lf" x="2207" y="3670" width="100" height="24" rx="4"/><text class="t" x="2212" y="3686">账号：______</text></g>
<g id="j3"><rect class="lf" x="1954" y="3721" width="227" height="80" rx="4"/><text class="t" x="1959" y="3737">3.3若乙方逾期未付清租金，则按所欠款项每<tspan x="1959" dy="14">日千分之一的比例向甲方支付逾期付款违约金</tspan><tspan x="1959" dy="14">。乙方逾期支付租金满一个月的，甲方有权单</tspan><tspan x="1959" dy="14">方解除本合同，收回房地产，追收所欠款项，</tspan><tspan x="1959" dy="14">已收取的租金不予退还。</tspan></text></g>
<g id="i4"><rect class="lf" x="1811" y="3832" width="108" height="24" rx="4"/><text class="t" x="1816" y="3848">第四条租赁物的用途</text></g>
<g id="i4c"><rect class="lf" x="1943" y="3825" width="227" height="38" rx="4"/><text class="t" x="1948" y="3841">4.1乙方租赁上述房产应用于合法经营，不得<tspan x="1948" dy="14">利用上述房产从事任何违法活动。</tspan></text></g>
<g id="i5"><rect class="lf" x="1811" y="4297" width="86" height="24" rx="4"/><text class="t" x="1816" y="4313">第五条特别约定</text></g>
<g id="k1"><rect class="lf" x="1923" y="3887" width="227" height="66" rx="4"/><text class="t" x="1928" y="3903">5.1经甲方同意，乙方可对上述房产进行装修<tspan x="1928" dy="14">、修理、修缮，但不得改变房产的框架结构及</tspan><tspan x="1928" dy="14">基础。不论出现任何情况，装修、修理、修缮</tspan><tspan x="1928" dy="14">费用概由乙方负责。</tspan></text></g>
<g id="k2"><rect class="lf" x="1923" y="3977" width="227" height="38" rx="4"/><text class="t" x="1928" y="3993">5.2乙方在使用租赁房产中产生的水、电等费<tspan x="1928" dy="14">用均由乙方负担并自行向有关部门缴清。</tspan></text></g>
<g id="k3"><rect class="lf" x="1923" y="4038" width="227" height="80" rx="4"/><text class="t" x="1928" y="4054">5.3乙方使用租赁房产过程应守法经营，不得<tspan x="1928" dy="14">从事任何非法活动。乙方在经营过程中产生的</tspan><tspan x="1928" dy="14">一切债权、债务与法律责任由乙方自行享有和</tspan><tspan x="1928" dy="14">承担，与甲方无关。有关税费，全额由乙方负</tspan><tspan x="1928" dy="14">担并自行向有关部门缴清。</tspan></text></g>
<g id="k4"><rect class="lf" x="1923" y="4142" width="227" height="52" rx="4"/><text class="t" x="1928" y="4158">5.4在上述房产交付给乙方使用之后，上述房<tspan x="1928" dy="14">产产生的一切税费和债权债务均由乙方自行负</tspan><tspan x="1928" dy="14">担。</tspan></text></g>
<g id="k5"><rect class="lf" x="1923" y="4217" width="227" height="150" rx="4"/><text class="t" x="1928" y="4233">5.5乙方在经营过程中，应注意安全，落实防<tspan x="1928" dy="14">火、防盗措施，确保安全生产。乙方为安全生</tspan><tspan x="1928" dy="14">产全部责任人。乙方在使用上述房产前，应依</tspan><tspan x="1928" dy="14">法办理有关消防、安全生产验收和许可手续，</tspan><tspan x="1928" dy="14">所需一切费用均由乙方自行负担。乙方有使用</tspan><tspan x="1928" dy="14">上述房产过程中，如因消防、安全生产等机关</tspan><tspan x="1928" dy="14">检查、调查，被要求整改、行政处罚，乙方应</tspan><tspan x="1928" dy="14">按要求及时落实整改措施，接受处罚，所需一</tspan><tspan x="1928" dy="14">切费用和罚款均由乙方全额负担，与甲方无关</tspan><tspan x="1928" dy="14">。</tspan></text></g>
<g id="k6"><rect class="lf" x="1923" y="4390" width="227" height="80" rx="4"/><text class="t" x="1928" y="4406">5.6乙方在使用上述房产过程中造成自身或其<tspan x="1928" dy="14">雇员或任何他人的人身、财产损失，不论出于</tspan><tspan x="1928" dy="14">任何原因，均由乙方承担全部的赔偿、补偿责</tspan><tspan x="1928" dy="14">任和一切民事、行政及其他法律责任，与甲方</tspan><tspan x="1928" dy="14">无关。</tspan></text></g>
<g id="k7"><rect class="lf" x="1923" y="4494" width="227" height="38" rx="4"/><text class="t" x="1928" y="4510">5.7乙方在征得甲方书面同意的前提下可将上<tspan x="1928" dy="14">述房地产转租给他人。</tspan></text></g>
<g id="k8"><rect class="lf" x="1923" y="4555" width="227" height="66" rx="4"/><text class="t" x="1928" y="4571">5.8租赁期限内或届满后如乙方有任何违约行<tspan x="1928" dy="14">为，甲方所收取的保证金作为违约金，不予退</tspan><tspan x="1928" dy="14">还。合同届满后，如乙方无违约行为，甲方应</tspan><tspan x="1928" dy="14">将保证金退还（不计利息）。</tspan></text></g>
<g id="k9"><rect class="lf" x="1923" y="4680" width="227" height="38" rx="4"/><text class="t" x="1928" y="4696">5.9乙方确认下列地址为其有效送达地址（收<tspan x="1928" dy="14">件人为乙方本人）：_____。</tspan></text></g>
<g id="k9c"><rect class="lf" x="2174" y="4645" width="227" height="108" rx="4"/><text class="t" x="2179" y="4661">若乙方变更联系地址及联系电话应及时书面通<tspan x="2179" dy="14">知甲方，否则，甲方将按该地址及联系电话寄</tspan><tspan x="2179" dy="14">（发）出或电话告知，甲方寄给乙方的有关涉</tspan><tspan x="2179" dy="14">及本房产相关事宜的通知、函件按送达地址邮</tspan><tspan x="2179" dy="14">寄视为送达；如按上述地址邮寄文件被部门退</tspan><tspan x="2179" dy="14">回的，退回之日视为送达之日，因此所产生的</tspan><tspan x="2179" dy="14">通知没收到之责任由乙方自行承担。</tspan></text></g>
<g id="i6"><rect class="lf" x="1811" y="4938" width="227" height="38" rx="4"/><text class="t" x="1816" y="4954">第六条出现下列情形之一的，甲方有权单方解<tspan x="1816" dy="14">除本合同：</tspan></text></g>
<g id="l1"><rect class="lf" x="2064" y="4776" width="225" height="38" rx="4"/><text class="t" x="2069" y="4792">6.1乙方利用上述房产从事违法活动，或在上<tspan x="2069" dy="14">述房产中发现任何违法行为的。</tspan></text></g>
<g id="l2"><rect class="lf" x="2064" y="4838" width="225" height="38" rx="4"/><text class="t" x="2069" y="4854">6.2乙方逾期或不足额缴交租金满一个月（包<tspan x="2069" dy="14">含本数）的。</tspan></text></g>
<g id="l3"><rect class="lf" x="2064" y="4900" width="225" height="38" rx="4"/><text class="t" x="2069" y="4916">6.3乙方未经甲方书面同意，将上述房产全部<tspan x="2069" dy="14">或部分转租、出借给他人使用的。</tspan></text></g>
<g id="l4"><rect class="lf" x="2064" y="4962" width="225" height="38" rx="4"/><text class="t" x="2069" y="4978">6.4乙方未经甲方书面同意，改变房产主体结<tspan x="2069" dy="14">构及基础，或造成房产严重损害、贬值的。</tspan></text></g>
<g id="l5"><rect class="lf" x="2064" y="5024" width="225" height="38" rx="4"/><text class="t" x="2069" y="5040">6.5乙方未能按照有关机关的要求落实消防、<tspan x="2069" dy="14">安全生产等整改措施的。</tspan></text></g>
<g id="l6"><rect class="lf" x="2064" y="5106" width="197" height="24" rx="4"/><text class="t" x="2069" y="5122">6.6乙方存在其他任何严重违约行为的。</text></g>
<g id="l6c"><rect class="lf" x="2287" y="5085" width="227" height="66" rx="4"/><text class="t" x="2292" y="5101">出现上述任何一种情形的，乙方支付的保证金<tspan x="2292" dy="14">及缴交的租金不予退还，尚欠甲方的租金还应</tspan><tspan x="2292" dy="14">付还，造成甲方损失的乙方还应承担赔偿责任</tspan><tspan x="2292" dy="14">。</tspan></text></g>
<g id="i7"><rect class="lf" x="1811" y="5283" width="140" height="24" rx="4"/><text class="t" x="1816" y="5299">第七条有关租赁期满的约定</text></g>
<g id="m1"><rect class="lf" x="1976" y="5175" width="228" height="122" rx="4"/><text class="t" x="1981" y="5191">7.1租赁期限届满，如甲方将上述房产继续出<tspan x="1981" dy="14">租，在同等条件下，乙方享有优先承租的权利</tspan><tspan x="1981" dy="14">。租赁期满或本合同解除、终止，上述房产中</tspan><tspan x="1981" dy="14">的装修、装饰或配套设施中除可移动且不影响</tspan><tspan x="1981" dy="14">房产的正常使用外，乙方不能拆除，无偿归甲</tspan><tspan x="1981" dy="14">方所有。租赁期满或本合同解除、终止时，乙</tspan><tspan x="1981" dy="14">方尚存在该房产中的任何物品视为乙方抛弃所</tspan><tspan x="1981" dy="14">有权，由甲方自行处置。</tspan></text></g>
<g id="m2"><rect class="lf" x="1976" y="5320" width="228" height="66" rx="4"/><text class="t" x="1981" y="5336">7.2租赁期限届满或租赁合同解除，如果乙方<tspan x="1981" dy="14">无违约行为，在乙方将房产交还甲方之日起一</tspan><tspan x="1981" dy="14">个月内，甲方应将剩余的保证金（应扣除乙方</tspan><tspan x="1981" dy="14">欠缴的水电费及其他费用）无息退还给乙方。</tspan></text></g>
<g id="i8"><rect class="lf" x="1811" y="5561" width="64" height="24" rx="4"/><text class="t" x="1816" y="5577">第八条附则</text></g>
<g id="n1"><rect class="lf" x="1900" y="5410" width="227" height="66" rx="4"/><text class="t" x="1905" y="5426">8.1甲、乙双方在履行本合同过程中发生争议<tspan x="1905" dy="14">，应当友好协商。协商不成，任何一方均可向</tspan><tspan x="1905" dy="14">租赁物所在地有管辖权的人民法院提出民事诉</tspan><tspan x="1905" dy="14">讼。</tspan></text></g>
<g id="n2"><rect class="lf" x="1900" y="5500" width="221" height="24" rx="4"/><text class="t" x="1905" y="5516">8.2本协议一式二份，甲、乙双方各执一份。</text></g>
<g id="n3"><rect class="lf" x="1900" y="5691" width="210" height="24" rx="4"/><text class="t" x="1905" y="5707">8.3本协议自甲、乙双方签名之日起生效。</text></g>
<g id="o1"><rect class="lf" x="2136" y="5548" width="119" height="24" rx="4"/><text class="t" x="2141" y="5564">甲方：______________</text></g>
<g id="o2"><rect class="lf" x="2136" y="5596" width="117" height="24" rx="4"/><text class="t" x="2141" y="5612">联系方式：__________</text></g>
<g id="o3"><rect class="lf" x="2136" y="5644" width="119" height="24" rx="4"/><text class="t" x="2141" y="5660">乙方：______________</text></g>
<g id="o4"><rect class="lf" x="2136" y="5691" width="122" height="24" rx="4"/><text class="t" x="2141" y="5707">联系方式：__________</text></g>
<g id="o5"><rect class="lf" x="2136" y="5739" width="121" height="24" rx="4"/><text class="t" x="2141" y="5755">中介方：____________</text></g>
<g id="o6"><rect class="lf" x="2136" y="5787" width="129" height="24" rx="4"/><text class="t" x="2141" y="5803">_____年_____月_____日</text></g>
<g id="o7"><rect class="lf" x="2136" y="5835" width="103" height="24" rx="4"/><text class="t" x="2141" y="5851">合同签订地：_____</text></g>

<!-- 精选篇2 -->
<g id="p1"><rect class="lf" x="550" y="937" width="140" height="24" rx="4"/><text class="t" x="555" y="953">出租方(甲方)： 家庭地址：</text></g>
<g id="p2"><rect class="lf" x="550" y="1495" width="140" height="24" rx="4"/><text class="t" x="555" y="1511">承租方(乙方)： 家庭地址：</text></g>
<g id="q1"><rect class="lf" x="298" y="984" width="227" height="52" rx="4"/><text class="t" x="303" y="1000">现经甲乙双方自愿达成租房协议。为明确双方<tspan x="303" dy="14">权利和义务关系，根据《中华人民共和国合同</tspan><tspan x="303" dy="14">法》及有关规定，签订本合同。</tspan></text></g>
<g id="q2"><rect class="lf" x="298" y="1060" width="227" height="52" rx="4"/><text class="t" x="303" y="1076">一、房屋座落地点：面积___，户型___，<tspan x="303" dy="14">起租时水___度，电___度，燃气___度及房</tspan><tspan x="303" dy="14">屋装修。</tspan></text></g>
<g id="q3"><rect class="lf" x="298" y="1135" width="227" height="66" rx="4"/><text class="t" x="303" y="1151">二、本次租赁期限___个月，即自___年___<tspan x="303" dy="14">月___日起至___年___月___日止，租赁期</tspan><tspan x="303" dy="14">满乙方应无条件交回房屋。如乙方提前结束合</tspan><tspan x="303" dy="14">同，则押金不予退还。</tspan></text></g>
<g id="q4"><rect class="lf" x="298" y="1225" width="227" height="66" rx="4"/><text class="t" x="303" y="1241">三、经商定租金为每月___元，租金按每 月<tspan x="303" dy="14">付一次款，签合同日先付首次租金 元整。第</tspan><tspan x="303" dy="14">二次付款提前 天付清，即付房租日期为___</tspan><tspan x="303" dy="14">年___月___日(以后依此类推)。</tspan></text></g>
<g id="q5"><rect class="lf" x="298" y="1314" width="227" height="80" rx="4"/><text class="t" x="303" y="1330">四、为保证乙方在租赁期内按期支付水、电、<tspan x="303" dy="14">有线、物业等费用，并考虑到甲方投入的装修</tspan><tspan x="303" dy="14">设施等因素，由乙方在本合同签订日支付甲方</tspan><tspan x="303" dy="14">使用保证金 元，待租期满双方结清帐务后，</tspan><tspan x="303" dy="14">由甲方退回给乙方，不计利息。</tspan></text></g>
<g id="q6"><rect class="lf" x="298" y="1445" width="227" height="52" rx="4"/><text class="t" x="303" y="1461">五、①甲方保证房权清楚，租期内如发生产权<tspan x="303" dy="14">、债务纠纷，影响本合同履行而给乙方造成损</tspan><tspan x="303" dy="14">失的，由甲方负责补偿；</tspan></text></g>
<g id="q7"><rect class="lf" x="298" y="1670" width="227" height="38" rx="4"/><text class="t" x="303" y="1686">六、①乙方租期内应爱护房屋装修、设施，如<tspan x="303" dy="14">有损坏按价赔偿；</tspan></text></g>
<g id="q8"><rect class="lf" x="298" y="1845" width="227" height="66" rx="4"/><text class="t" x="303" y="1861">七、违约责任：本合同生效后，如甲方中途违<tspan x="303" dy="14">约，应赔偿乙方一个月房租；如乙方中途违约</tspan><tspan x="303" dy="14">，应赔偿甲方一个月房租，违约金从保证金中</tspan><tspan x="303" dy="14">扣除。</tspan></text></g>
<g id="q9"><rect class="lf" x="298" y="1986" width="227" height="38" rx="4"/><text class="t" x="303" y="2002">八、本合同一式二份，在双方签字或盖章后生<tspan x="303" dy="14">效。甲、乙双方各执一份。</tspan></text></g>
<g id="r1"><rect class="lf" x="47" y="1412" width="226" height="38" rx="4"/><text class="t" x="52" y="1428">②房屋及室内设施的自然损坏及正常损耗由<tspan x="52" dy="14">甲方负责维修；</tspan></text></g>
<g id="r2"><rect class="lf" x="47" y="1480" width="226" height="52" rx="4"/><text class="t" x="52" y="1496">③甲方有按期收取房租的权利，在乙方拖欠房<tspan x="52" dy="14">租或水、电等费用10天以上，甲方有权收回</tspan><tspan x="52" dy="14">房屋，保证金不予返还。</tspan></text></g>
<g id="s1"><rect class="lf" x="47" y="1556" width="226" height="38" rx="4"/><text class="t" x="52" y="1572">②租期内水、电(物业每月 元)、(有线每月 元)<tspan x="52" dy="14">(网络每月 元)等费用由使用方(乙方)承担；</tspan></text></g>
<g id="s2"><rect class="lf" x="47" y="1618" width="226" height="80" rx="4"/><text class="t" x="52" y="1634">③乙方必须遵纪守法，未经甲方同意不得改变<tspan x="52" dy="14">房屋结构和转租、转借、抵押、出租房屋，不</tspan><tspan x="52" dy="14">得用房屋进行非法活动，不得影响邻里关系。</tspan><tspan x="52" dy="14">否则，甲方有权终止合同，收回房屋甲方所有</tspan><tspan x="52" dy="14">，甲方所收款项不予返还。</tspan></text></g>
<g id="s3"><rect class="lf" x="47" y="1721" width="226" height="38" rx="4"/><text class="t" x="52" y="1737">④如需续租，乙方应提前30天通知甲方，双<tspan x="52" dy="14">方同意后另签续租合同。</tspan></text></g>
<g id="s4"><rect class="lf" x="47" y="1783" width="226" height="38" rx="4"/><text class="t" x="52" y="1799">⑤如不续租，也未通知甲方而自行锁门离去，<tspan x="52" dy="14">甲方有权入室清理，乙方遗留物品不受保护。</tspan></text></g>
<g id="t1"><rect class="lf" x="47" y="1934" width="226" height="24" rx="4"/><text class="t" x="52" y="1950">甲方(公章)：______ 乙方(公章)：______</text></g>
<g id="t2"><rect class="lf" x="47" y="1986" width="226" height="38" rx="4"/><text class="t" x="52" y="2002">法定代表人(签字)：______ 法定代表人(签<tspan x="52" dy="14">字)：______</tspan></text></g>
<g id="t3"><rect class="lf" x="47" y="2044" width="226" height="38" rx="4"/><text class="t" x="52" y="2060">______年___月___日 ______年___月_<tspan x="52" dy="14">_日</tspan></text></g>

<!-- 精选篇4 -->
<g id="u0"><rect class="lf" x="464" y="2107" width="226" height="66" rx="4"/><text class="t" x="469" y="2123">甲、乙、丙三方根据中华人民共和国有关法律<tspan x="469" dy="14">、行政法规和相关地方性法规的规定，在合法</tspan><tspan x="469" dy="14">、平等、自愿、相互信任的基础上签订本合同</tspan><tspan x="469" dy="14">，承诺共同遵守。</tspan></text></g>
<g id="u1"><rect class="lf" x="507" y="2251" width="183" height="24" rx="4"/><text class="t" x="512" y="2267">一、出租物业坐落地点及设施情况：</text></g>
<g id="u2"><rect class="lf" x="613" y="2436" width="77" height="24" rx="4"/><text class="t" x="618" y="2452">二、租赁期限</text></g>
<g id="u3"><rect class="lf" x="582" y="2670" width="108" height="24" rx="4"/><text class="t" x="587" y="2686">三、租金及支付方式</text></g>
<g id="u4"><rect class="lf" x="613" y="3067" width="77" height="24" rx="4"/><text class="t" x="618" y="3083">四、租赁条件</text></g>
<g id="u5"><rect class="lf" x="613" y="3436" width="77" height="24" rx="4"/><text class="t" x="618" y="3452">五、产权变更</text></g>
<g id="u6"><rect class="lf" x="613" y="3552" width="77" height="24" rx="4"/><text class="t" x="618" y="3568">六、关于押金</text></g>
<g id="u7"><rect class="lf" x="604" y="3760" width="86" height="24" rx="4"/><text class="t" x="609" y="3776">七、合同的终止</text></g>
<g id="v1"><rect class="lf" x="255" y="2196" width="226" height="52" rx="4"/><text class="t" x="260" y="2212">1.甲方将其拥有的位于____市____区______<tspan x="260" dy="14">__号的房屋(以下简称"该房屋")租给乙方使用</tspan><tspan x="260" dy="14">，用途为_______，房屋面积为____平方米。</tspan></text></g>
<g id="v2"><rect class="lf" x="255" y="2272" width="226" height="66" rx="4"/><text class="t" x="260" y="2288">2.该房屋现有装修及设施情况见附件。除双方<tspan x="260" dy="14">另有约定外，该附件作为甲方按照本合同约定</tspan><tspan x="260" dy="14">交付乙方使用和乙方在本合同租赁期满交还该</tspan><tspan x="260" dy="14">房屋的验证依据。</tspan></text></g>
<g id="w1"><rect class="lf" x="363" y="2361" width="226" height="38" rx="4"/><text class="t" x="368" y="2377">1.该房屋租赁期限共____个月，自___年__<tspan x="368" dy="14">月__日至___年__月__日止。</tspan></text></g>
<g id="w2"><rect class="lf" x="363" y="2423" width="226" height="38" rx="4"/><text class="t" x="368" y="2439">2.租赁期内，甲乙双方未经协商一致均不得提<tspan x="368" dy="14">前解约。</tspan></text></g>
<g id="w3"><rect class="lf" x="363" y="2484" width="226" height="66" rx="4"/><text class="t" x="368" y="2500">3.租赁期满，甲方有权收回该房屋，乙方应如<tspan x="368" dy="14">期交还。乙方若要求续租，则必须在租赁期满</tspan><tspan x="368" dy="14">前一个月内通知甲方，经甲方同意后重新订立</tspan><tspan x="368" dy="14">租赁合同。</tspan></text></g>
<g id="x1"><rect class="lf" x="330" y="2574" width="226" height="66" rx="4"/><text class="t" x="335" y="2590">1.该房屋租金为人民币____元整/月(此价格不<tspan x="335" dy="14">含相关税费)，中介服务费元整由负担并在签</tspan><tspan x="335" dy="14">定本合同时支付给丙方，乙方应同时交纳首期</tspan><tspan x="335" dy="14">租金元给甲方。</tspan></text></g>
<g id="x2"><rect class="lf" x="330" y="2663" width="226" height="38" rx="4"/><text class="t" x="335" y="2679">2.该房屋租金按____支付，支付时间为____<tspan x="335" dy="14">，以甲方实际收到为准。</tspan></text></g>
<g id="x3"><rect class="lf" x="330" y="2725" width="226" height="66" rx="4"/><text class="t" x="335" y="2741">3.乙方若逾期支付租金，每逾期一天，则乙方<tspan x="335" dy="14">需按月租金的5%支付滞纳金。拖欠租金超过</tspan><tspan x="335" dy="14">一个月，甲方有权收回此出租房，乙方须按实</tspan><tspan x="335" dy="14">际居住日交纳租金并承担违约责任。</tspan></text></g>
<g id="y1"><rect class="lf" x="363" y="2815" width="226" height="38" rx="4"/><text class="t" x="368" y="2831">1、甲方应向乙方出示该房屋的产权证或有权<tspan x="368" dy="14">决定该房屋出租的相关证明。</tspan></text></g>
<g id="y2"><rect class="lf" x="363" y="2877" width="226" height="66" rx="4"/><text class="t" x="368" y="2893">2、甲方应保证该房屋的出租不违反国家法律<tspan x="368" dy="14">法规的相关规定并保证自己有权决定此租赁事</tspan><tspan x="368" dy="14">宜；签本合同后双方当事人应按国家规定进行</tspan><tspan x="368" dy="14">备案。</tspan></text></g>
<g id="y3"><rect class="lf" x="363" y="2967" width="226" height="38" rx="4"/><text class="t" x="368" y="2983">3、乙方不得在该房屋内进行违反法律法规及<tspan x="368" dy="14">政府对出租房屋用途有关规定的行为。</tspan></text></g>
<g id="y4"><rect class="lf" x="363" y="3029" width="226" height="66" rx="4"/><text class="t" x="368" y="3045">4、未经甲方书面同意，乙方不得将该房屋部<tspan x="368" dy="14">分或全部转租他人。若擅自转租，甲方有权终</tspan><tspan x="368" dy="14">止合同，由乙方承担对甲方及丙方的违约责任</tspan><tspan x="368" dy="14">。</tspan></text></g>
<g id="y5"><rect class="lf" x="363" y="3119" width="226" height="38" rx="4"/><text class="t" x="368" y="3135">5、乙方承担租赁期内水费、电费等实际使用<tspan x="368" dy="14">的费用，若有特殊约定则从其约定。</tspan></text></g>
<g id="y6"><rect class="lf" x="363" y="3180" width="226" height="80" rx="4"/><text class="t" x="368" y="3196">6、因乙方使用不当或不合理使用致使该房屋<tspan x="368" dy="14">或其内部设施出现损坏或发生故障，乙方应及</tspan><tspan x="368" dy="14">时联络进行维修并负担所发生的费用。由于不</tspan><tspan x="368" dy="14">可抗力及非乙方原因造成的损失由甲方负责承</tspan><tspan x="368" dy="14">担有关维修的费用。</tspan></text></g>
<g id="y7"><rect class="lf" x="363" y="3283" width="226" height="80" rx="4"/><text class="t" x="368" y="3299">7、租赁期内乙方因使用需要对出租房屋或屋<tspan x="368" dy="14">内设施进行装修或改动，须经甲方同意并经政</tspan><tspan x="368" dy="14">府有关部门批准，甲方有权对装修或改动情况</tspan><tspan x="368" dy="14">进行监督。合同期满时乙方不得移走自行添加</tspan><tspan x="368" dy="14">的结构性设施</tspan></text></g>
<g id="y7c"><rect class="lf" x="165" y="3311" width="173" height="24" rx="4"/><text class="t" x="170" y="3327">甲方也无须对以上设施进行补偿。</text></g>
<g id="z1"><rect class="lf" x="363" y="3387" width="226" height="52" rx="4"/><text class="t" x="368" y="3403">1.如甲方依法定程序将房屋所有权转移给第三<tspan x="368" dy="14">方时，无特别约定的情况下，本合同对新的房</tspan><tspan x="368" dy="14">屋所有人继续有效。</tspan></text></g>
<g id="z2"><rect class="lf" x="363" y="3463" width="226" height="38" rx="4"/><text class="t" x="368" y="3479">2.甲方若出售该房屋，须提前三个月书面通知<tspan x="368" dy="14">乙方，同等条件下乙方有优先购买权。</tspan></text></g>
<g id="u6c"><rect class="lf" x="363" y="3524" width="226" height="80" rx="4"/><text class="t" x="368" y="3540">为保证乙方合理并善意地使用该房屋及其配套<tspan x="368" dy="14">设施，乙方应在签定本合同并交纳首期租金时</tspan><tspan x="368" dy="14">支付甲方____元作为押金。待租赁期限届满</tspan><tspan x="368" dy="14">，甲方验房后，乙方将该房屋钥匙交与甲方，</tspan><tspan x="368" dy="14">同时甲方将此押金全部归还乙方。</tspan></text></g>
<g id="aa1"><rect class="lf" x="352" y="3628" width="227" height="38" rx="4"/><text class="t" x="357" y="3644">1.租赁期限届满或经甲、乙双方协商一致本合<tspan x="357" dy="14">同终止。</tspan></text></g>
<g id="aa2"><rect class="lf" x="352" y="3690" width="227" height="66" rx="4"/><text class="t" x="357" y="3706">2.乙方应在期满当日将房屋钥匙及正常使用状<tspan x="357" dy="14">态下的附件中所列物品交给甲方。房屋留置的</tspan><tspan x="357" dy="14">一切物品均视为放弃，甲方有权处置，乙方绝</tspan><tspan x="357" dy="14">无异议。</tspan></text></g>
<g id="aa3"><rect class="lf" x="352" y="3872" width="227" height="52" rx="4"/><text class="t" x="357" y="3888">3.若甲、乙双方中的一方违约，另一方有权终<tspan x="357" dy="14">止合同，并向对方提出赔偿要求，丙方所收中</tspan><tspan x="357" dy="14">介服务费不予退还。</tspan></text></g>
<g id="ab1"><rect class="lf" x="100" y="3780" width="227" height="38" rx="4"/><text class="t" x="105" y="3796">本协议自签订之日起生效，甲乙丙三方各执一<tspan x="105" dy="14">份</tspan></text></g>
<g id="ab2"><rect class="lf" x="284" y="3841" width="43" height="24" rx="4"/><text class="t" x="289" y="3857">甲方：</text></g>
<g id="ab3"><rect class="lf" x="284" y="3886" width="43" height="24" rx="4"/><text class="t" x="289" y="3902">乙方：</text></g>
<g id="ab4"><rect class="lf" x="284" y="3937" width="43" height="24" rx="4"/><text class="t" x="289" y="3953">丙方：</text></g>
<g id="ab5"><rect class="lf" x="263" y="3985" width="64" height="24" rx="4"/><text class="t" x="268" y="4001">签订日期：</text></g>
</g>
</svg>
